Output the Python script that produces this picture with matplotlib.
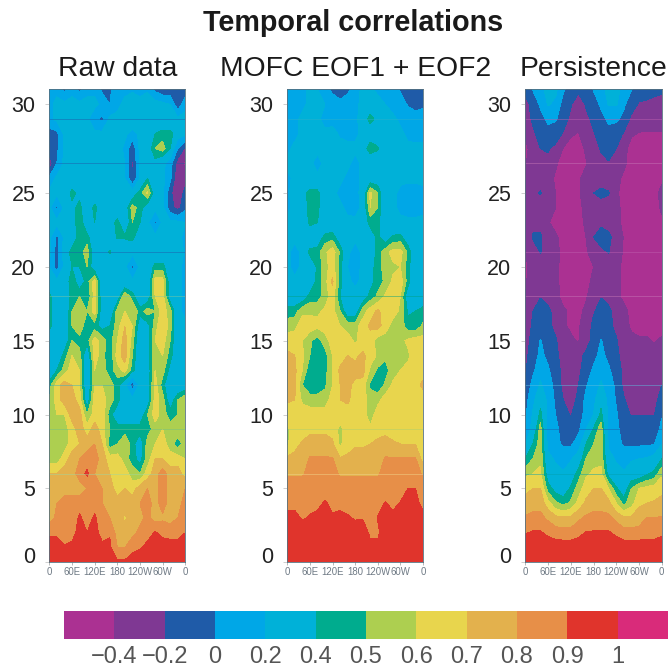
import numpy as np
import matplotlib
matplotlib.use("Agg")
import matplotlib.pyplot as plt
from matplotlib.transforms import ScaledTranslation

plt.rcParams['font.family'] = ['Liberation Sans', 'DejaVu Sans']

W, H = 668, 669
lons = list(range(0, 361, 20))
days = list(range(0, 33))
levels = [-0.4, -0.2, 0, 0.2, 0.4, 0.5, 0.6, 0.7, 0.8, 0.9, 1]
level_labels = ['\u22120.4', '\u22120.2', '0', '0.2', '0.4', '0.5', '0.6', '0.7', '0.8', '0.9', '1']
colors_mid = ['#7F3893', '#1F5BA8', '#00A7E7', '#00B1D8', '#00AC8E', '#ADCF50',
              '#E8D54D', '#E3B14D', '#E78F48', '#E0342C']
color_under = '#AB3192'
color_over = '#D92B7A'
xticks = [0, 60, 120, 180, 240, 300, 360]
xticklabels = ['0', '60E', '120E', '180', '120W', '60W', '0']
yticks = [0, 5, 10, 15, 20, 25, 31]
yticklabels = ['0', '5', '10', '15', '20', '25', '30']
titles = ['Raw data', 'MOFC EOF1 + EOF2', 'Persistence']

# correlation x 100, rows = lead day 0..32, columns = longitude 0..360 step 20
raw = [
[98,98,98,98,98,98,98,98,98,92,92,98,98,98,98,98,98,98,98],
[95,95,91,93,96,96,96,92,92,80,80,85,89,93,94,94,95,95,95],
[88,88,85,86,94,90,93,87,89,76,76,78,82,86,91,88,86,86,90],
[76,82,82,82,92,85,92,82,80,76,68,76,78,82,76,78,76,80,82],
[75,80,85,85,85,85,85,80,80,75,75,75,80,85,75,85,75,75,85],
[75,75,75,75,75,80,85,80,75,65,70,65,75,80,75,85,75,75,80],
[70,70,75,75,85,92,80,75,70,65,65,55,50,65,75,85,75,75,65],
[55,55,65,75,80,85,85,75,65,65,55,45,35,55,70,70,65,65,60],
[55,55,55,65,70,75,80,70,45,50,60,45,30,55,60,65,55,45,55],
[55,55,55,65,75,65,75,65,50,45,45,45,45,45,55,60,55,55,55],
[50,60,60,75,75,50,65,65,45,30,30,30,30,50,65,55,45,50,60],
[50,65,75,75,65,30,65,65,55,45,25,25,25,30,65,55,30,50,60],
[45,65,75,70,60,25,60,60,55,45,25,-10,25,30,65,45,25,25,30],
[25,40,55,65,60,25,60,55,45,55,65,45,25,30,60,55,35,25,25],
[25,25,45,60,55,25,65,55,40,65,75,50,25,35,60,60,45,25,25],
[25,25,30,50,45,45,65,55,45,60,75,55,25,35,60,65,50,25,25],
[45,30,25,50,60,40,45,35,40,55,70,60,30,35,55,70,55,25,25],
[45,25,25,50,60,50,65,30,25,55,60,60,45,55,50,65,55,25,15],
[45,25,25,45,50,40,65,30,25,30,60,45,25,30,60,65,30,25,15],
[25,25,25,50,30,45,65,25,25,25,25,25,25,25,65,65,30,25,15],
[20,-10,25,40,40,50,30,25,25,30,25,-5,25,25,45,45,25,25,15],
[25,-10,30,45,45,55,30,30,42,25,25,25,25,25,25,25,25,40,15],
[25,-5,25,30,45,45,25,25,25,42,42,45,25,25,25,25,25,25,15],
[25,25,25,30,50,25,40,25,30,45,25,50,40,25,-5,25,25,25,20],
[25,-5,25,35,45,25,45,25,25,25,30,55,45,30,25,25,-12,-28,-5],
[25,25,25,45,35,25,25,25,25,25,25,30,45,62,30,25,-15,-38,-12],
[5,25,25,25,25,25,25,25,25,25,20,-20,20,40,25,25,5,-40,-30],
[-35,0,25,25,25,25,35,25,25,40,20,-25,25,25,35,25,10,-30,-45],
[-5,-5,25,25,25,25,25,25,25,30,15,-15,25,30,50,55,40,0,-25],
[-10,-5,25,25,25,25,25,25,25,40,25,10,25,25,40,45,45,30,25],
[15,25,25,25,25,25,5,-5,25,25,30,40,25,30,30,25,25,25,25],
[15,25,25,25,25,25,25,15,0,15,25,40,25,40,30,25,20,-15,15],
[15,15,-5,15,-5,15,15,-5,-5,15,15,15,15,15,-5,-15,-15,-15,-15],
]

mofc = [
[100,100,100,100,100,100,100,100,100,100,100,100,100,100,100,100,100,100,100],
[97,97,97,97,97,97,97,97,97,97,97,93,93,97,97,97,97,97,97],
[96,96,96,96,96,96,96,96,96,96,96,88,88,96,96,96,96,96,96],
[92,93,89,91,92,93,91,92,91,89,89.5,85,90.5,91,92,92,93,93,92],
[88,87,86,87,88,91,88,88,87,86,86,84,87,90.5,88,90.5,92,92,88],
[84,84,84,84,84,85,85,84,84,84,84,84,84,85,85,86,90,90,85],
[79,79,79,83,83,83,83,79,79,79,79,79,79,83,83,83,83,83,79],
[72,72,74,81,81,81,81,71,72,73,73,74,75,81,81,81,81,81,66],
[58,68,71,74,74,74,72,58,66,69,69,70,73,74,71,70,70,70,64],
[58,65,66,68,68,68,66,57,65,65,65,62,65,67,67,65,65,65,65],
[66,65,65,65,65,65,65,65,65,65,65,55,65,65,65,65,65,65,65],
[71,70,58,55,55,55,65,70,72,65,65,55,57,65,65,65,65,65,65],
[72,72,50,42,42,48,60,70,72,68,66,48,42,52,62,65,65,67,72],
[73,72,60,42,42,46,60,72,72,73,74,58,48,46,55,60,63,66,66],
[72,70,62,50,42,46,60,65,70,68,72,66,58,52,60,60,58,66,66],
[66,64,60,52,45,55,65,65,65,58,65,65,55,55,56,57,62,65,64],
[55,58,65,65,63,65,65,60,56,56,65,72,74,65,56,56,44,43,52],
[45,45,58,58,58,62,64,50,30,30,55,65,72,65,65,58,38,40,44],
[30,30,30,44,45,55,65,40,30,30,30,44,52,62,65,60,30,30,30],
[25,25,25,30,44,56,72,45,25,15,25,35,45,52,62,66,45,25,25],
[25,12,25,28,42,56,65,45,20,10,25,35,45,55,58,60,45,25,25],
[25,12,25,44,45,58,66,48,25,10,25,30,44,56,64,64,48,25,25],
[25,25,25,25,30,44,46,30,25,25,25,30,44,30,42,44,30,25,25],
[25,25,25,44,40,25,28,25,25,25,30,44,44,25,25,25,25,25,25],
[15,25,30,45,44,25,25,25,15,12,25,60,50,25,25,15,10,10,15],
[18,25,35,44,44,25,25,15,12,15,25,62,50,25,25,15,10,10,15],
[15,25,25,25,25,25,25,25,15,12,25,30,30,25,25,25,25,25,25],
[25,25,25,25,12,25,25,25,25,12,25,25,25,25,25,25,25,25,25],
[15,25,25,25,25,25,25,25,25,25,30,48,42,25,25,25,25,25,25],
[15,15,25,25,25,25,25,18,15,15,25,30,28,25,25,25,15,12,12],
[12,15,25,25,25,12,15,12,12,15,30,45,35,25,25,15,12,12,12],
[12,12,15,25,25,20,12,5,12,15,25,30,28,20,12,10,-2,-10,-5],
[5,10,15,25,20,10,-5,-10,-5,10,25,25,15,10,10,-2,-10,-10,-10],
]

persistence = [
[100,100,100,100,100,100,100,100,100,100,100,100,100,100,100,100,100,100,100],
[96,96,96,96,96,96,96,96,96,96,96,96,96,96,96,96,96,96,96],
[89.5,91,91,88,85,84,84,87,90.5,91,91,91,88,84,84,84,85,85,88],
[81,83,83,78,73,72,72,78,82,83,83,83,77,72,72,75,80,80,81],
[74,76,76,64,52,47,52,63,72,76,76,73,60,47,56,68,70,71,73],
[67,70,70,45,35,30,42,55,65,70,70,60,42,30,50,60,63,65,67],
[58,60,62,32,25,22,30,45,58,62,62,35,25,22,30,30,38,43,58],
[40,50,58,25,18,12,18,30,50,56,58,25,18,12,18,20,22,28,40],
[20,40,56,15,5,-3,-3,10,40,50,57,18,8,-3,-3,-3,-3,-1,20],
[5,28,55,12,5,-8,-10,-5,20,42,56,12,5,-8,-10,-10,-10,-10,5],
[-3,22,44,15,0,-15,-21,-12,8,20,44,15,3,-15,-21,-21,-21,-21,-2],
[-8,15,35,15,-4,-20,-30,-15,5,15,35,15,-2,-18,-30,-30,-30,-30,-8],
[-18,8,22,12,-8,-25,-30,-20,-2,12,22,12,-5,-25,-30,-30,-30,-30,-20],
[-22,-5,15,3,-12,-25,-30,-25,-10,3,15,3,-10,-25,-30,-30,-30,-30,-25],
[-25,-10,5,-5,-15,-28,-35,-28,-15,-5,5,-5,-15,-28,-35,-35,-35,-35,-30],
[-30,-12,1,-10,-18,-30,-38,-41,-30,-12,1,-10,-18,-32,-37,-38,-38,-41,-38],
[-38,-15,-10,-15,-25,-38,-42,-42,-32,-15,-10,-15,-25,-35,-42,-45,-45,-45,-45],
[-38,-20,-12,-15,-28,-38,-42,-45,-36,-22,-12,-15,-28,-35,-45,-45,-45,-45,-45],
[-40,-30,-21,-28,-36,-44,-46,-46,-42,-32,-21,-28,-36,-44,-46,-46,-46,-46,-46],
[-42,-32,-28,-30,-37,-44,-46,-46,-44,-37,-28,-30,-36,-43,-46,-46,-46,-46,-46],
[-43,-33,-30,-32,-37,-44,-46,-46,-44,-40,-30,-30,-36,-43,-46,-46,-46,-46,-46],
[-41,-30,-19,-30,-36,-44,-46,-46,-42,-33,-25,-19,-32,-42,-46,-46,-46,-46,-46],
[-38,-18,-18,-30,-38,-44,-46,-46,-40,-20,-10,-15,-30,-41,-46,-46,-46,-46,-44],
[-35,-25,-24,-39,-44,-46,-46,-44,-38,-32,-25,-28,-35,-44,-46,-46,-46,-46,-42],
[-36,-32,-33,-37,-40,-46,-46,-44,-36,-32,-30,-32,-36,-44,-46,-46,-46,-46,-38],
[-38,-26,-18,-35,-40,-44,-46,-42,-34,-20,-14,-18,-38,-44,-46,-46,-46,-46,-35],
[-41,-34,-32,-35,-42,-46,-46,-42,-36,-33,-32,-34,-37,-42,-46,-46,-46,-46,-44],
[-41,-34,-21,-25,-38,-46,-46,-42,-41,-34,-25,-21,-25,-38,-44,-46,-46,-46,-46],
[-43,-35,-20,-18,-25,-41,-46,-46,-38,-30,-18,-15,-20,-35,-46,-46,-46,-46,-46],
[-38,-25,-10,-5,-10,-22,-38,-41,-32,-22,-10,-5,-10,-22,-38,-41,-41,-41,-41],
[-35,-15,-5,3,2,-10,-25,-35,-25,-15,-5,3,3,-5,-25,-32,-35,-35,-35],
[-28,-12,3,22,15,-8,-18,-32,-18,-8,3,22,22,3,-10,-22,-22,-25,-30],
[-15,1,15,25,25,3,-8,-15,-10,1,15,25,25,15,1,-10,-15,-15,-15],
]

panels = [raw, mofc, persistence]
# faint scan lines present in the reference: (day, colour) per panel
streaks = [
    [(6, '#9fd8a0'), (9, '#6fc08a'), (12, '#30b0c8'), (18, '#7fc8a0'), (21, '#1f5ba8'), (27, '#1f5ba8'), (30, '#1f5ba8')],
    [(6, '#f0d890'), (9, '#a8d070'), (18, '#00a080'), (30, '#30b0c8')],
    [(6, '#00a0b0'), (9, '#1f5ba8'), (12, '#60c0e0'), (18, '#c878b8'), (21, '#c060b0'), (27, '#c878b8'), (30, '#c060b0')],
]
axes_px = [(49.3, 185.3), (287.3, 423.0), (525.3, 661.7)]
top_px, bottom_px = 89.5, 562.3
title_cx = [118, 356, 594]

fig = plt.figure(figsize=(W / 100, H / 100), dpi=100)
fig.patch.set_facecolor('white')
cf = None
for data, (x0, x1), name, cx, lines in zip(panels, axes_px, titles, title_cx, streaks):
    ax = fig.add_axes([x0 / W, 1 - bottom_px / H, (x1 - x0) / W, (bottom_px - top_px) / H])
    z = np.array(data, dtype=float) / 100
    cf = ax.contourf(lons, days, z, levels=levels, colors=colors_mid, extend='both')
    cf.cmap.set_under(color_under)
    cf.cmap.set_over(color_over)
    cf.changed()
    for day, col in lines:
        ax.axhline(day, color=col, lw=0.6, alpha=0.55)
    ax.set_xlim(0, 360)
    ax.set_ylim(0, 32)
    ax.set_xticks(xticks)
    ax.set_xticklabels(xticklabels, fontsize=6.9, color='#6f7a85')
    ax.set_yticks(yticks)
    ax.set_yticklabels(yticklabels, fontsize=15.5, color='#222222')
    ax.tick_params(axis='x', length=2, width=0.5, color='#999999', pad=1.5)
    ax.tick_params(axis='y', length=3, width=0.5, color='#bbbbbb', pad=7)
    # the reference sets the "0" label a little above its tick
    zero_label = ax.get_yticklabels()[0]
    zero_label.set_transform(zero_label.get_transform() +
                             ScaledTranslation(0, 7 / 100, fig.dpi_scale_trans))
    for s in ax.spines.values():
        s.set_linewidth(0.6)
        s.set_color('#55707f')
    fig.text(cx / W, 1 - 68.5 / H, name, ha='center', va='center', fontsize=20.3, color='#1a1a1a')

fig.text(353 / W, 1 - 23 / H, 'Temporal correlations', ha='center', va='center',
         fontsize=20.7, fontweight='bold', color='#1a1a1a')

cax = fig.add_axes([64 / W, 1 - 639 / H, (668 - 64) / W, 28 / H])
cb = fig.colorbar(cf, cax=cax, orientation='horizontal', extend='both', extendrect=True,
                  extendfrac='auto', spacing='uniform', ticks=levels)
cb.ax.set_xticklabels(level_labels, fontsize=17, color='#555555')
cb.ax.tick_params(length=0, pad=5)
cb.outline.set_visible(False)

fig.savefig('out.png', dpi=100)
